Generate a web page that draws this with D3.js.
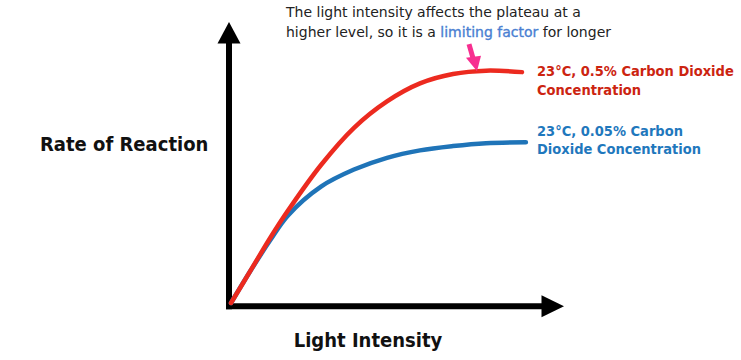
<!DOCTYPE html>
<html><head><meta charset="utf-8">
<script src="https://cdn.jsdelivr.net/npm/d3@7"></script>
<style>body{margin:0;background:#fff}svg{display:block}</style>
</head><body>
<svg id="c" width="741" height="360"></svg>
<script>
// Light intensity (arbitrary units) and rate of reaction (arbitrary units)
const lightIntensity = [0, 7, 13, 19, 30, 41, 52, 63, 74, 85, 97];
const rateHighCO2 = [0, 14.5, 27, 38.5, 57.5, 73, 84, 91.5, 95.4, 96.8, 96.2];
const lightIntensityLow = [0, 6.3, 13, 19, 30, 41, 52, 63, 74, 85, 98.3];
const rateLowCO2 = [0, 13, 26, 36.5, 48.5, 55.6, 60.5, 63.6, 65.4, 66.6, 67];
const seriesLabels = [["23°C, 0.5% Carbon Dioxide", "Concentration"], ["23°C, 0.05% Carbon", "Dioxide Concentration"]];
const axisLabels = {x: "Light Intensity", y: "Rate of Reaction"};
const annotationLines = ["The light intensity affects the plateau at a", ["higher level, so it is a ", "limiting factor", " for longer"]];
const annotationPoint = [82, 96.6];

const svg = d3.select("#c");
const x = d3.scaleLinear().domain([0, 100]).range([231, 531]);
const y = d3.scaleLinear().domain([0, 100]).range([303, 63]);
const font = "'DejaVu Sans', sans-serif";
const fontC = "'DejaVu Sans Condensed', 'DejaVu Sans', sans-serif";

// axes with arrowheads
const ax = x(0) - 2, ay = y(0) + 3.3;
svg.append("line").attr("x1", ax).attr("y1", ay + 3).attr("x2", ax).attr("y2", 42)
  .attr("stroke", "#000").attr("stroke-width", 6);
svg.append("path").attr("d", `M${ax},22 L${ax - 11.5},43.5 L${ax + 11.5},43.5 Z`).attr("fill", "#000");
svg.append("line").attr("x1", ax - 3).attr("y1", ay).attr("x2", 543).attr("y2", ay)
  .attr("stroke", "#000").attr("stroke-width", 6);
svg.append("path").attr("d", `M564,${ay} L541.5,${ay - 11} L541.5,${ay + 11} Z`).attr("fill", "#000");

const line = d3.line().curve(d3.curveCatmullRom.alpha(0.5)).x(d => x(d[0])).y(d => y(d[1]));
svg.append("path").datum(d3.zip(lightIntensityLow, rateLowCO2)).attr("d", line)
  .attr("fill", "none").attr("stroke", "#1f74b8").attr("stroke-width", 4.5).attr("stroke-linecap", "round");
svg.append("path").datum(d3.zip(lightIntensity, rateHighCO2)).attr("d", line)
  .attr("fill", "none").attr("stroke", "#ec2a1f").attr("stroke-width", 4.5).attr("stroke-linecap", "round");

// series labels
const labelColors = ["#cc2410", "#1f78bd"];
const labelY = [[76, 95], [136, 154]];
seriesLabels.forEach((ls, i) => {
  ls.forEach((t, j) => {
    svg.append("text").attr("x", 537).attr("y", labelY[i][j]).text(t)
      .attr("font-family", fontC).attr("font-weight", "bold").attr("font-size", 14.5)
      .attr("fill", labelColors[i]);
  });
});

// axis titles
svg.append("text").attr("x", 40).attr("y", 151).text(axisLabels.y)
  .attr("font-family", fontC).attr("font-weight", "bold").attr("font-size", 20).attr("fill", "#111");
svg.append("text").attr("x", 368).attr("y", 347).attr("text-anchor", "middle").text(axisLabels.x)
  .attr("font-family", fontC).attr("font-weight", "bold").attr("font-size", 20).attr("fill", "#111");

// annotation
svg.append("text").attr("x", 286).attr("y", 17).text(annotationLines[0])
  .attr("font-family", font).attr("font-size", 14).attr("fill", "#222");
const t2 = svg.append("text").attr("x", 286).attr("y", 37).attr("font-family", font).attr("font-size", 14).attr("fill", "#222");
t2.append("tspan").text(annotationLines[1][0]);
t2.append("tspan").text(annotationLines[1][1]).attr("fill", "#4a7fd2").attr("stroke", "#4a7fd2").attr("stroke-width", 0.35);
t2.append("tspan").text(annotationLines[1][2]);

// pink arrow
const px = x(annotationPoint[0]), py = y(annotationPoint[1]);
svg.append("line").attr("x1", px - 8).attr("y1", py - 27).attr("x2", px - 4).attr("y2", py - 13)
  .attr("stroke", "#f72f90").attr("stroke-width", 5);
svg.append("path").attr("d", `M${px},${py} L${px - 11},${py - 13.5} L${px + 4},${py - 15.5} Z`).attr("fill", "#f72f90");
</script>
</body></html>
